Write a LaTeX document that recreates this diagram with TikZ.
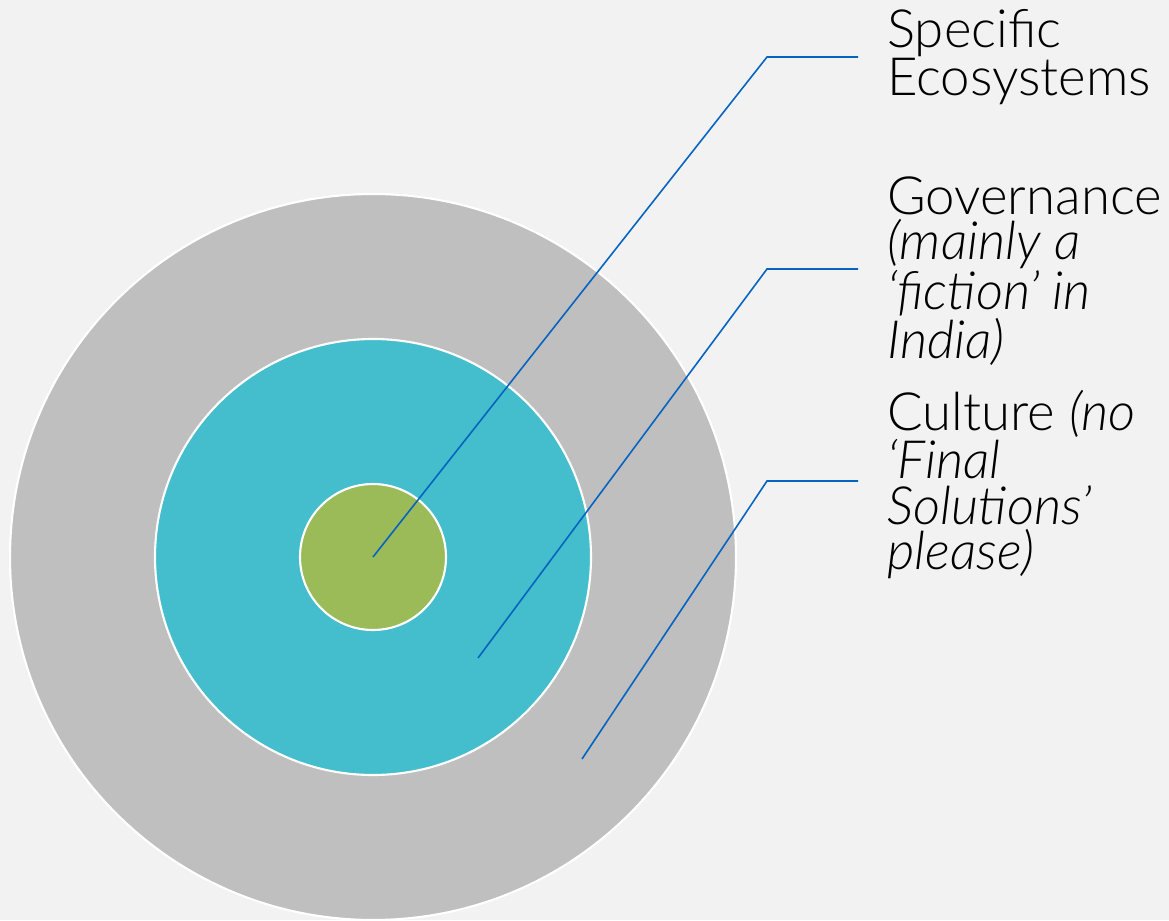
\documentclass[tikz,border=0pt]{standalone}
\usepackage{fontspec}
\setmainfont{Lato Light}[ItalicFont={Lato Light Italic}]
\usepackage{xcolor}
\usetikzlibrary{positioning}
\definecolor{bgcol}{HTML}{F2F2F2}
\definecolor{ringgray}{HTML}{BFBFBF}
\definecolor{ringteal}{HTML}{44BDCC}
\definecolor{ringgreen}{HTML}{9BBB59}
\definecolor{leadblue}{HTML}{0563C1}

\begin{document}
\begin{tikzpicture}[x=0.02cm,y=0.02cm,
  ring/.style={draw=white,line width=1.2pt},
  lead/.style={leadblue,line width=0.9pt},
  lbl/.style={anchor=north west,inner sep=0pt,align=left,font=\fontsize{30}{26}\selectfont}]
\fill[bgcol] (0,0) rectangle (1169,920);
\useasboundingbox (0,0) rectangle (1169,920);
% rings
\coordinate (C) at (373,363);
\draw[ring,fill=ringgray] (C) circle (363);
\draw[ring,fill=ringteal] (C) circle (218);
\draw[ring,fill=ringgreen] (C) circle (73);
% labels
\node[lbl] (eco) at (887,911) {Specific\\Ecosystems};
\node[lbl] (gov) at (887,744) {Governance\\\textit{(mainly a}\\\textit{`fiction' in}\\\textit{India)}};
\node[lbl] (cul) at (887,530) {Culture \textit{(no}\\\textit{`Final}\\\textit{Solutions'}\\\textit{please)}};
% leaders
\coordinate (eco-pt) at (C);
\coordinate (gov-pt) at (478,262);
\coordinate (cul-pt) at (582,161);
\coordinate (eco-end) at (858,863);
\coordinate (gov-end) at (858,651);
\coordinate (cul-end) at (858,439);
\draw[lead] (eco-pt) -- (767,863) -- (eco-end);
\draw[lead] (gov-pt) -- (767,651) -- (gov-end);
\draw[lead] (cul-pt) -- (767,439) -- (cul-end);
\end{tikzpicture}
\end{document}
